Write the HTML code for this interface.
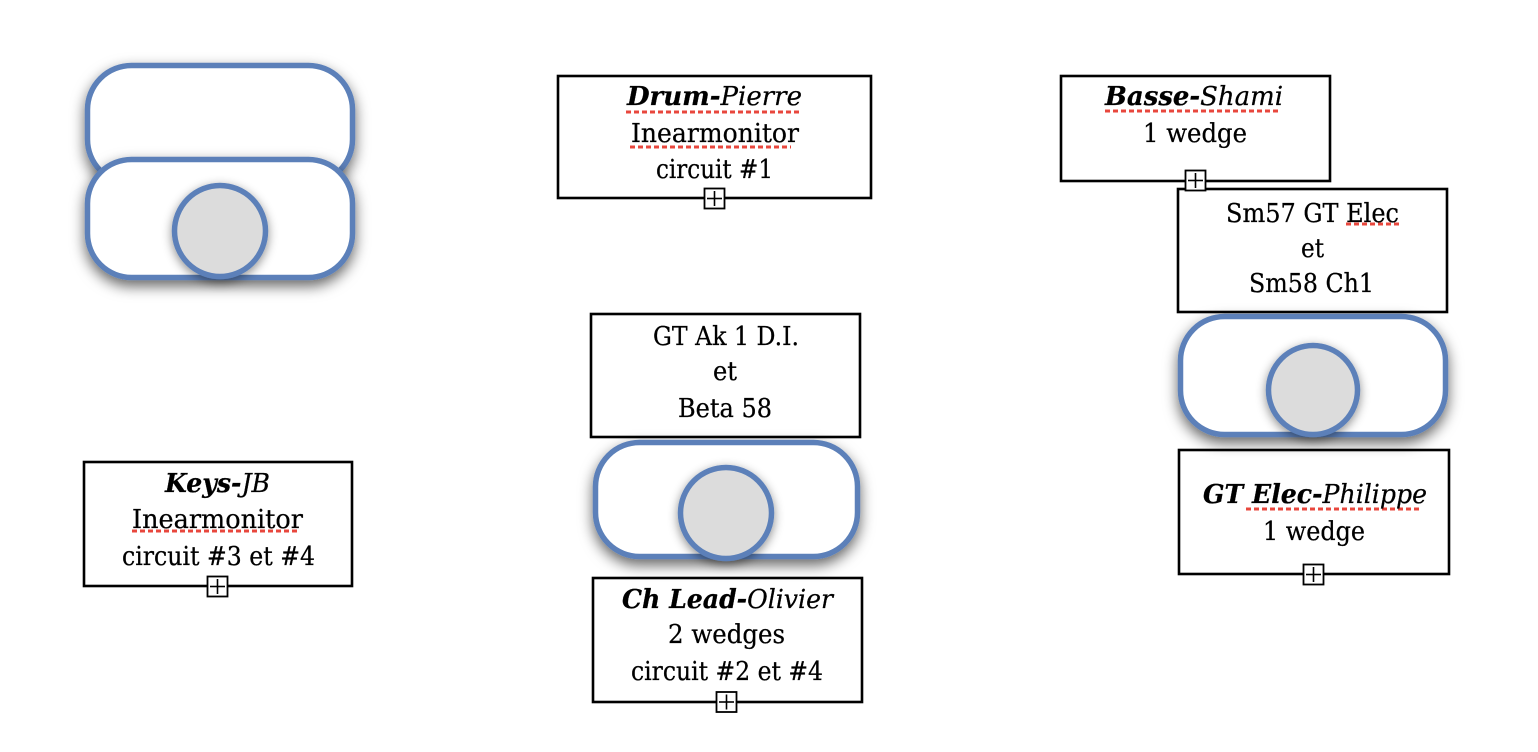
<!DOCTYPE html>
<html>
<head>
<meta charset="utf-8">
<style>
  html, body { margin:0; padding:0; background:#fff; }
  svg { display:block; }
  text { font-family: "DejaVu Serif", "Liberation Serif", serif; font-size:26px; fill:#000; stroke:#000; stroke-width:0.25; }
</style>
</head>
<body>
<svg width="1538" height="752" viewBox="0 0 1538 752" xmlns="http://www.w3.org/2000/svg">
  <defs>
    <filter id="sh" x="-20%" y="-30%" width="140%" height="180%">
      <feDropShadow dx="0" dy="6" stdDeviation="7" flood-color="#000" flood-opacity="0.6"/>
    </filter>
    <filter id="shc" x="-30%" y="-30%" width="160%" height="170%">
      <feDropShadow dx="0" dy="3" stdDeviation="5" flood-color="#000" flood-opacity="0.45"/>
    </filter>
  </defs>

  <!-- Boxes -->
  <g fill="#fff" stroke="#000" stroke-width="2.6">
    <rect x="558" y="76" width="313" height="122"/>
    <rect x="1061" y="76" width="269" height="105"/>
    <rect x="1178" y="189" width="269" height="123"/>
    <rect x="1179" y="450" width="270" height="124"/>
    <rect x="591" y="314" width="269" height="123"/>
    <rect x="593" y="578" width="269" height="124"/>
    <rect x="84" y="462" width="268" height="124"/>
  </g>

  <!-- Wedges -->
  <g fill="#fff" stroke="#5b80b9" stroke-width="5.5">
    <rect x="87.5" y="65.5" width="265" height="118" rx="44" ry="44" filter="url(#sh)"/>
    <rect x="87.5" y="159.5" width="265" height="118" rx="44" ry="44" filter="url(#sh)"/>
    <rect x="1180.5" y="316.5" width="265" height="118" rx="44" ry="44" filter="url(#sh)"/>
    <rect x="595.5" y="442.5" width="262" height="114" rx="44" ry="44" filter="url(#sh)"/>
  </g>
  <g fill="#dcdcdc" stroke="#5b80b9" stroke-width="5.5">
    <circle cx="220" cy="231" r="45.5" filter="url(#shc)"/>
    <circle cx="1313" cy="390" r="44.5" filter="url(#shc)"/>
    <circle cx="726" cy="513" r="45.5" filter="url(#shc)"/>
  </g>

  <!-- Spell-check underlines -->
  <g stroke="#e8473d" stroke-width="3" stroke-dasharray="5 3" fill="none">
    <line x1="626" y1="112" x2="799" y2="112"/>
    <line x1="630" y1="147" x2="791" y2="147"/>
    <line x1="1105" y1="111" x2="1279" y2="111"/>
    <line x1="1346" y1="224" x2="1402" y2="224"/>
    <line x1="1246" y1="509" x2="1420" y2="509"/>
    <line x1="132" y1="531" x2="297" y2="531"/>
  </g>

  <!-- Drum box text -->
  <text x="627" y="105" textLength="175" lengthAdjust="spacingAndGlyphs"><tspan font-weight="bold" font-style="italic">Drum-</tspan><tspan font-style="italic">Pierre</tspan></text>
  <text x="631" y="142" textLength="168" lengthAdjust="spacingAndGlyphs">Inearmonitor</text>
  <text x="656" y="178" textLength="117" lengthAdjust="spacingAndGlyphs">circuit #1</text>

  <!-- Basse box -->
  <text x="1105" y="105" textLength="178" lengthAdjust="spacingAndGlyphs"><tspan font-weight="bold" font-style="italic">Basse-</tspan><tspan font-style="italic">Shami</tspan></text>
  <text x="1143" y="142" textLength="104" lengthAdjust="spacingAndGlyphs">1 wedge</text>

  <!-- Sm57 box -->
  <text x="1226" y="222" textLength="173" lengthAdjust="spacingAndGlyphs">Sm57 GT Elec</text>
  <text x="1301" y="257" textLength="23" lengthAdjust="spacingAndGlyphs">et</text>
  <text x="1249" y="292" textLength="125" lengthAdjust="spacingAndGlyphs">Sm58 Ch1</text>

  <!-- GT Elec box -->
  <text x="1203" y="503" textLength="224" lengthAdjust="spacingAndGlyphs"><tspan font-weight="bold" font-style="italic">GT Elec-</tspan><tspan font-style="italic">Philippe</tspan></text>
  <text x="1263" y="540" textLength="102" lengthAdjust="spacingAndGlyphs">1 wedge</text>

  <!-- GT Ak box -->
  <text x="653" y="345" textLength="146" lengthAdjust="spacingAndGlyphs">GT Ak 1 D.I.</text>
  <text x="713" y="380" textLength="24" lengthAdjust="spacingAndGlyphs">et</text>
  <text x="678" y="417" textLength="94" lengthAdjust="spacingAndGlyphs">Beta 58</text>

  <!-- Ch Lead box -->
  <text x="622" y="608" textLength="211" lengthAdjust="spacingAndGlyphs"><tspan font-weight="bold" font-style="italic">Ch Lead-</tspan><tspan font-style="italic">Olivier</tspan></text>
  <text x="668" y="643" textLength="117" lengthAdjust="spacingAndGlyphs">2 wedges</text>
  <text x="631" y="680" textLength="192" lengthAdjust="spacingAndGlyphs">circuit #2 et #4</text>

  <!-- Keys box -->
  <text x="165" y="492" textLength="105" lengthAdjust="spacingAndGlyphs"><tspan font-weight="bold" font-style="italic">Keys-</tspan><tspan font-style="italic">JB</tspan></text>
  <text x="132" y="528" textLength="171" lengthAdjust="spacingAndGlyphs">Inearmonitor</text>
  <text x="122" y="565" textLength="193" lengthAdjust="spacingAndGlyphs">circuit #3 et #4</text>

  <!-- Plus boxes -->
  <g fill="#fff" stroke="#000" stroke-width="1.8">
    <rect x="704.5" y="188.5" width="20" height="20"/>
    <rect x="1185.5" y="170.5" width="20" height="20"/>
    <rect x="1303.5" y="564.5" width="20" height="20"/>
    <rect x="716.5" y="692" width="20" height="20"/>
    <rect x="207.5" y="576.5" width="20" height="20"/>
  </g>
  <g stroke="#000" stroke-width="1.6">
    <line x1="707" y1="198.5" x2="722" y2="198.5"/><line x1="714.5" y1="191" x2="714.5" y2="206"/>
    <line x1="1188" y1="180.5" x2="1203" y2="180.5"/><line x1="1195.5" y1="173" x2="1195.5" y2="188"/>
    <line x1="1306" y1="574.5" x2="1321" y2="574.5"/><line x1="1313.5" y1="567" x2="1313.5" y2="582"/>
    <line x1="719" y1="702" x2="734" y2="702"/><line x1="726.5" y1="694.5" x2="726.5" y2="709.5"/>
    <line x1="210" y1="586.5" x2="225" y2="586.5"/><line x1="217.5" y1="579" x2="217.5" y2="594"/>
  </g>
</svg>
</body>
</html>
